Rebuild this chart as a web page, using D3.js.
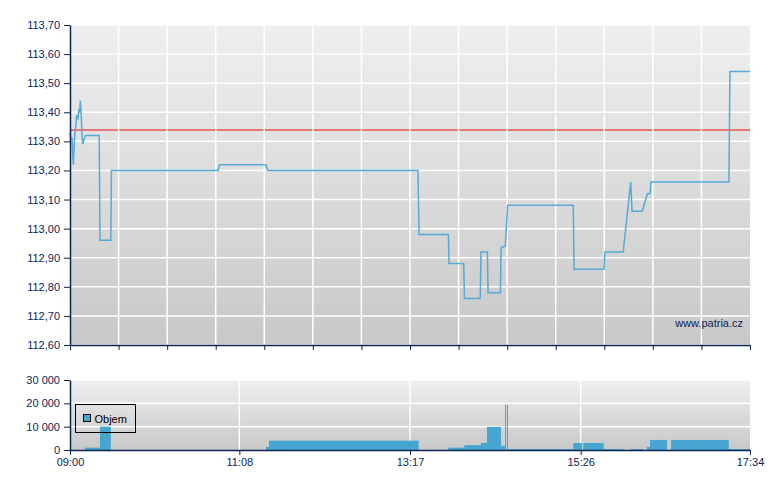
<!DOCTYPE html>
<html>
<head>
<meta charset="utf-8">
<title>Kurz a objem</title>
<style>
    body { margin: 0; background: #fff; }
    svg text { font-family: "Liberation Sans", Arial, sans-serif; font-size: 11px; fill: #0c2455; }
    .axis path, .axis line { stroke: #0c2455; }
</style>
</head>
<body>
<div id="chart"></div>
<script src="https://cdn.jsdelivr.net/npm/d3@7"></script>
<script>
    // cena: [cas, kurz]
    var price = [
        ["09:00:00", 113.33], ["09:00:30", 113.31], ["09:01:30", 113.31], ["09:02:30", 113.22],
        ["09:03:30", 113.32], ["09:04:20", 113.35], ["09:05:05", 113.39], ["09:06:00", 113.38],
        ["09:06:50", 113.41], ["09:07:20", 113.40], ["09:07:50", 113.44], ["09:08:30", 113.39],
        ["09:09:05", 113.32], ["09:09:35", 113.29], ["09:10:05", 113.30], ["09:11:35", 113.32],
        ["09:22:05", 113.32], ["09:22:40", 112.96], ["09:30:50", 112.96], ["09:31:20", 113.20],
        ["10:52:00", 113.20], ["10:53:00", 113.22], ["11:28:00", 113.22], ["11:29:30", 113.20],
        ["13:23:00", 113.20], ["13:23:50", 112.98], ["13:46:00", 112.98], ["13:46:30", 112.88],
        ["13:57:36", 112.88], ["13:58:10", 112.76], ["14:10:05", 112.76], ["14:10:40", 112.92],
        ["14:15:30", 112.92], ["14:16:00", 112.78], ["14:25:20", 112.78], ["14:25:50", 112.935],
        ["14:29:00", 112.94], ["14:30:50", 113.08], ["15:20:25", 113.08], ["15:21:00", 112.86],
        ["15:43:36", 112.86], ["15:44:24", 112.92], ["15:58:10", 112.92], ["16:03:50", 113.16],
        ["16:04:50", 113.06], ["16:12:36", 113.06], ["16:16:24", 113.12], ["16:18:24", 113.12],
        ["16:19:10", 113.16], ["17:18:05", 113.16], ["17:18:50", 113.54], ["17:34:00", 113.54]
    ];
    var refPrice = 113.34;

    // objem: [od, do, kusy]
    var volume = [
        ["09:11:20", "09:22:40", 1000], ["09:22:40", "09:30:50", 10000],
        ["11:28:10", "11:30:25", 1300], ["11:30:25", "13:23:35", 4000],
        ["13:46:00", "13:58:00", 1000], ["13:58:00", "14:10:40", 2100],
        ["14:10:40", "14:15:10", 3000], ["14:15:10", "14:25:50", 9900],
        ["14:25:50", "14:28:50", 1700], ["14:28:50", "14:29:35", 19300],
        ["14:30:20", "14:31:05", 19300], ["14:31:05", "15:20:25", 400],
        ["15:20:25", "15:27:10", 3000], ["15:28:00", "15:43:25", 3000],
        ["15:43:25", "15:53:30", 400], ["15:54:25", "15:58:30", 400],
        ["16:03:20", "16:13:05", 400], ["16:16:05", "16:18:25", 1300],
        ["16:18:25", "16:31:20", 4300], ["16:34:20", "17:17:55", 4300],
        ["17:17:55", "17:34:00", 400]
    ];

    var priceTicks = [112.6, 112.7, 112.8, 112.9, 113.0, 113.1, 113.2, 113.3, 113.4, 113.5, 113.6, 113.7];
    var volTicks = [0, 10000, 20000, 30000];
    var timeLabels = ["09:00", "11:08", "13:17", "15:26", "17:34"];

    var cz = d3.formatLocale({decimal: ",", thousands: " ", grouping: [3], currency: ["", " Kč"]});
    var fmtPrice = cz.format(".2f"),
        fmtVol = cz.format(",d");
    var parseT = d3.timeParse("%H:%M:%S");
    var t = function (s) { return parseT(s.length === 5 ? s + ":00" : s); };

    var W = 780, H = 490;
    var left = 70, right = 750;
    var mainTop = 25, mainBottom = 345;
    var volTop = 380, volBottom = 450;

    var svg = d3.select('#chart').append('svg')
        .attr('width', W).attr('height', H);

    var defs = svg.append('defs');
    var grad = defs.append('linearGradient')
        .attr('id', 'bg').attr('x1', 0).attr('y1', 0).attr('x2', 0).attr('y2', 1);
    grad.append('stop').attr('offset', '0%').attr('stop-color', '#efefef');
    grad.append('stop').attr('offset', '100%').attr('stop-color', '#c8c8c8');

    var x = d3.scaleTime()
        .domain([t(timeLabels[0]), t(timeLabels[timeLabels.length - 1])])
        .range([left, right]);
    var y = d3.scaleLinear().domain([112.6, 113.7]).range([mainBottom, mainTop]);
    var yv = d3.scaleLinear().domain([0, 30000]).range([volBottom, volTop]);

    var d0 = x.domain()[0].getTime(), d1 = x.domain()[1].getTime();
    var mainXTicks = d3.range(15).map(function (i) { return new Date(d0 + i * (d1 - d0) / 14); });
    var volXTicks = timeLabels.map(t);

    // ---------- horni graf: kurz ----------
    var main = svg.append('g');
    main.append('rect')
        .attr('x', left).attr('y', mainTop)
        .attr('width', right - left).attr('height', mainBottom - mainTop)
        .attr('fill', 'url(#bg)');

    // referencni cena (pod mrizkou)
    main.append('line')
        .attr('x1', left).attr('x2', right)
        .attr('y1', Math.round(y(refPrice))).attr('y2', Math.round(y(refPrice)))
        .attr('stroke', '#e85050').attr('stroke-width', 1.6);

    main.selectAll('line.hgrid').data(priceTicks).enter().append('line')
        .attr('class', 'hgrid')
        .attr('x1', left).attr('x2', right)
        .attr('y1', function (d) { return y(d); }).attr('y2', function (d) { return y(d); })
        .attr('stroke', '#fff').attr('stroke-width', 1.5);
    main.selectAll('line.vgrid').data(mainXTicks.slice(1, -1)).enter().append('line')
        .attr('class', 'vgrid')
        .attr('y1', mainTop).attr('y2', mainBottom)
        .attr('x1', function (d) { return x(d); }).attr('x2', function (d) { return x(d); })
        .attr('stroke', '#fff').attr('stroke-width', 1.5);

    main.append('text')
        .attr('x', 743).attr('y', 327)
        .attr('text-anchor', 'end')
        .text('www.patria.cz');

    var line = d3.line()
        .x(function (d) { return x(t(d[0])); })
        .y(function (d) { return y(d[1]); });
    main.append('path')
        .datum(price)
        .attr('d', line)
        .attr('fill', 'none')
        .attr('stroke', '#55aad6')
        .attr('stroke-width', 1.5);

    main.append('g').attr('class', 'axis')
        .attr('transform', 'translate(' + left + ',0)')
        .call(d3.axisLeft(y).tickValues(priceTicks).tickFormat(fmtPrice).tickSize(6).tickSizeOuter(0).tickPadding(4))
        .call(function (g) { g.select('.domain').attr('stroke-width', 1.5); });
    main.append('g').attr('class', 'axis')
        .attr('transform', 'translate(0,' + mainBottom + ')')
        .call(d3.axisBottom(x).tickValues(mainXTicks).tickFormat('').tickSize(5).tickSizeOuter(0))
        .call(function (g) { g.select('.domain').attr('stroke-width', 1.5); });

    // ---------- dolni graf: objem ----------
    var vol = svg.append('g');
    vol.append('rect')
        .attr('x', left).attr('y', volTop)
        .attr('width', right - left).attr('height', volBottom - volTop)
        .attr('fill', 'url(#bg)');

    vol.selectAll('line.hgrid').data(volTicks.slice(1)).enter().append('line')
        .attr('class', 'hgrid')
        .attr('x1', left).attr('x2', right)
        .attr('y1', function (d) { return yv(d); }).attr('y2', function (d) { return yv(d); })
        .attr('stroke', '#fff').attr('stroke-width', 1.5);
    vol.selectAll('line.vgrid').data(volXTicks.slice(1, -1)).enter().append('line')
        .attr('class', 'vgrid')
        .attr('y1', volTop).attr('y2', volBottom)
        .attr('x1', function (d) { return x(d); }).attr('x2', function (d) { return x(d); })
        .attr('stroke', '#fff').attr('stroke-width', 1.5);

    vol.selectAll('rect.bar').data(volume).enter().append('rect')
        .attr('class', 'bar')
        .attr('x', function (d) { return x(t(d[0])); })
        .attr('width', function (d) { return Math.max(1, x(t(d[1])) - x(t(d[0]))); })
        .attr('y', function (d) { return yv(d[2]); })
        .attr('height', function (d) { return volBottom - yv(d[2]); })
        .attr('fill', '#46a6d0');

    vol.append('g').attr('class', 'axis')
        .attr('transform', 'translate(' + left + ',0)')
        .call(d3.axisLeft(yv).tickValues(volTicks).tickFormat(fmtVol).tickSize(6).tickSizeOuter(0).tickPadding(4))
        .call(function (g) { g.select('.domain').attr('stroke-width', 1.5); });
    vol.append('g').attr('class', 'axis')
        .attr('transform', 'translate(0,' + volBottom + ')')
        .call(d3.axisBottom(x).tickValues(volXTicks)
            .tickFormat(function (d, i) { return timeLabels[i]; })
            .tickSize(5).tickSizeOuter(0).tickPadding(3))
        .call(function (g) { g.select('.domain').attr('stroke-width', 1.5); });
    svg.selectAll('.axis text').attr('font-family', null).attr('font-size', null);

    // legenda
    var legend = vol.append('g').attr('transform', 'translate(75.5,404.5)');
    legend.append('rect')
        .attr('width', 60).attr('height', 28)
        .attr('fill', 'none').attr('stroke', '#000');
    legend.append('rect')
        .attr('x', 8).attr('y', 10).attr('width', 7).attr('height', 7)
        .attr('fill', '#46a6d0').attr('stroke', '#000');
    legend.append('text')
        .attr('x', 19).attr('y', 18.5)
        .style('fill', '#000')
        .text('Objem');
</script>
</body>
</html>
